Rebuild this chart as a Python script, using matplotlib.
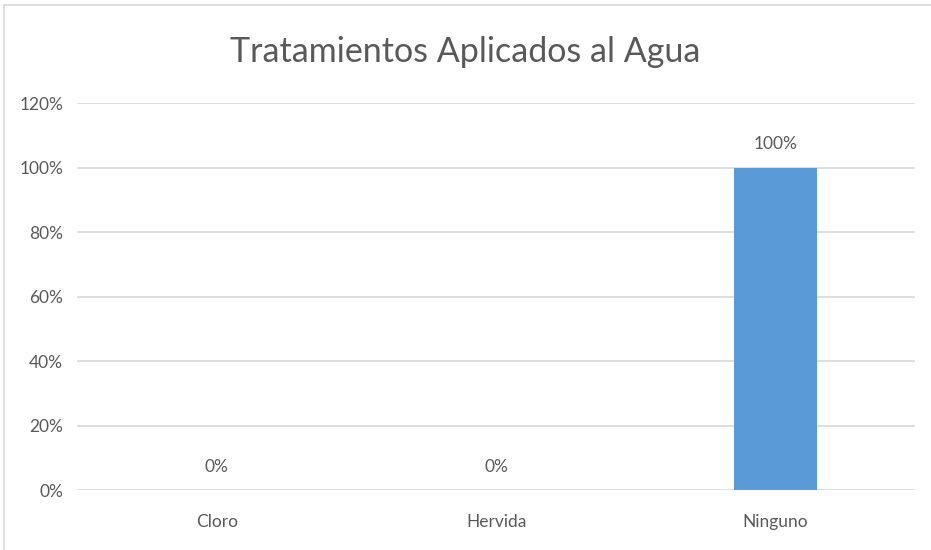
import matplotlib

matplotlib.use("Agg")
import matplotlib.pyplot as plt
from matplotlib.patches import Rectangle

categories = ["Cloro", "Hervida", "Ninguno"]
values = [0.0, 0.0, 1.0]
yticks = [0, 0.2, 0.4, 0.6, 0.8, 1.0, 1.2]

text_color = "#595959"
grid_color = "#d9d9d9"
bar_color = "#5b9bd5"

plt.rcParams["font.family"] = ["Lato", "DejaVu Sans"]

fig = plt.figure(figsize=(9.31, 5.5), dpi=100)
ax = fig.add_axes([0.0827, 0.109, 0.9003, 0.7036])

x = range(len(categories))
ax.bar(x, values, width=0.3, color=bar_color, zorder=3)

for xi, v in zip(x, values):
    ax.annotate(f"{v:.0%}", (xi, v), xytext=(0, 11), textcoords="offset points",
                ha="center", va="bottom", fontsize=12.5, color=text_color)

ax.set_xlim(-0.5, len(categories) - 0.5)
ax.set_ylim(0, 1.2)
ax.set_yticks(yticks)
ax.set_yticklabels([f"{t:.0%}" for t in yticks])
ax.set_xticks(list(x))
ax.set_xticklabels(categories)
ax.tick_params(axis="both", length=0, labelsize=12.5, labelcolor=text_color)
ax.tick_params(axis="x", pad=17)
ax.tick_params(axis="y", pad=10)

ax.grid(axis="y", color=grid_color, linewidth=1.2, zorder=0)
for s in ax.spines.values():
    s.set_visible(False)

fig.text(0.5, 0.905, "Tratamientos Aplicados al Agua", ha="center", va="center",
         fontsize=24.5, color=text_color)

# light frame round the chart area
fig.patches.append(Rectangle((0.004, -0.02), 1.1, 1.011, transform=fig.transFigure,
                             fill=False, edgecolor=grid_color, linewidth=1.2))

fig.savefig("out.png", dpi=100)
